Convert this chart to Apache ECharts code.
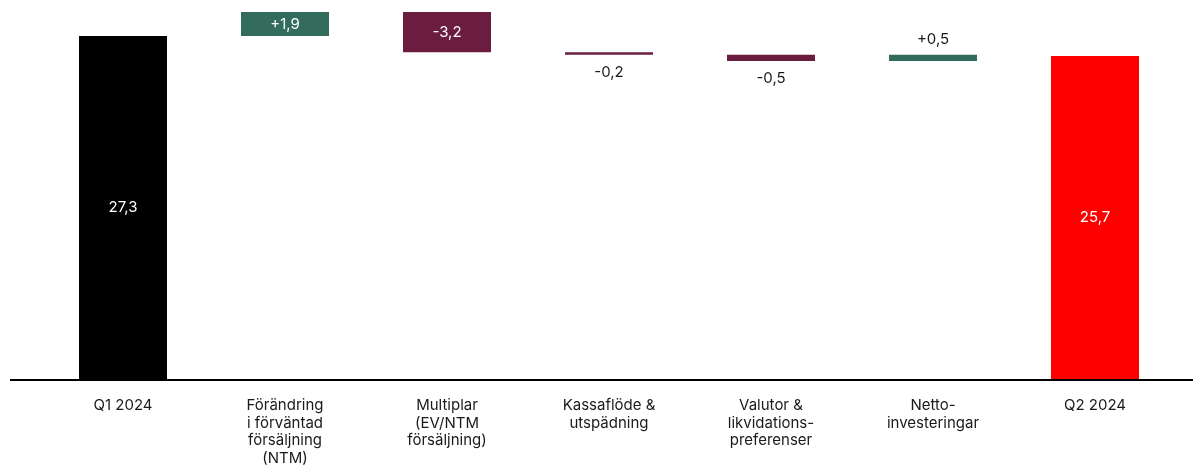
<!DOCTYPE html>
<html>
<head>
<meta charset="utf-8">
<script src="https://cdn.jsdelivr.net/npm/echarts@6/dist/echarts.min.js"></script>
<style>
  html, body { margin: 0; padding: 0; background: #fff; }
  #chart { width: 1193px; height: 467px; }
</style>
</head>
<body>
<div id="chart"></div>
<script>
// Bridge from Q1 2024 to Q2 2024 (values in billions)
const categories = [
  'Q1 2024',
  'Förändring\ni förväntad\nförsäljning\n(NTM)',
  'Multiplar\n(EV/NTM\nförsäljning)',
  'Kassaflöde &\nutspädning',
  'Valutor &\nlikvidations-\npreferenser',
  'Netto-\ninvesteringar',
  'Q2 2024'
];
const values = [27.3, 1.9, -3.2, -0.2, -0.5, 0.5, 25.7];
const isTotal = [true, false, false, false, false, false, true];
const labelPlacement = ['inside', 'inside', 'inside', 'bottom', 'bottom', 'top', 'inside'];

const COLORS = { total1: '#000000', total2: '#ff0000', up: '#336b5c', down: '#6b1d40' };

// Floating bars: invisible base + visible segment
let running = 0;
const baseData = [];
const barData = [];
values.forEach((v, i) => {
  let base, height, color;
  if (isTotal[i]) {
    base = 0; height = v; running = v;
    color = i === 0 ? COLORS.total1 : COLORS.total2;
  } else if (v >= 0) {
    base = running; height = v; running += v;
    color = COLORS.up;
  } else {
    running += v; base = running; height = -v;
    color = COLORS.down;
  }
  const fmt = (isTotal[i] ? '' : (v >= 0 ? '+' : '-')) + Math.abs(v).toFixed(1).replace('.', ',');
  const pos = labelPlacement[i];
  const inside = pos === 'inside';
  baseData.push(+base.toFixed(4));
  barData.push({
    value: +height.toFixed(4),
    itemStyle: { color },
    label: {
      show: true,
      position: pos,
      distance: pos === 'bottom' ? 10 : 8,
      formatter: fmt,
      color: inside ? '#ffffff' : '#1a1a1a'
    }
  });
});

const chart = echarts.init(document.getElementById('chart'), null, { renderer: 'canvas' });
chart.setOption({
  animation: false,
  backgroundColor: '#ffffff',
  textStyle: { fontFamily: 'Inter, sans-serif' },
  grid: { left: 42, right: 17, top: 2, bottom: 87, containLabel: false },
  xAxis: {
    type: 'category',
    data: categories,
    axisLine: { show: false },
    axisTick: { show: false },
    axisLabel: {
      interval: 0,
      margin: 18,
      fontSize: 15,
      lineHeight: 17.5,
      color: '#1a1a1a',
      fontFamily: 'Inter, sans-serif',
      align: 'center'
    }
  },
  yAxis: {
    type: 'value',
    min: 0,
    max: 30,
    show: false,
    splitLine: { show: false }
  },
  series: [
    {
      type: 'bar',
      stack: 'bridge',
      data: baseData,
      itemStyle: { color: 'transparent' },
      silent: true,
      barWidth: 88
    },
    {
      type: 'bar',
      stack: 'bridge',
      data: barData,
      barWidth: 88,
      label: { fontSize: 15, fontFamily: 'Inter, sans-serif' }
    }
  ],
  graphic: [
    {
      type: 'line',
      shape: { x1: 10, y1: 380, x2: 1193, y2: 380 },
      style: { stroke: '#000000', lineWidth: 2 },
      z: 10
    }
  ]
});
</script>
</body>
</html>
